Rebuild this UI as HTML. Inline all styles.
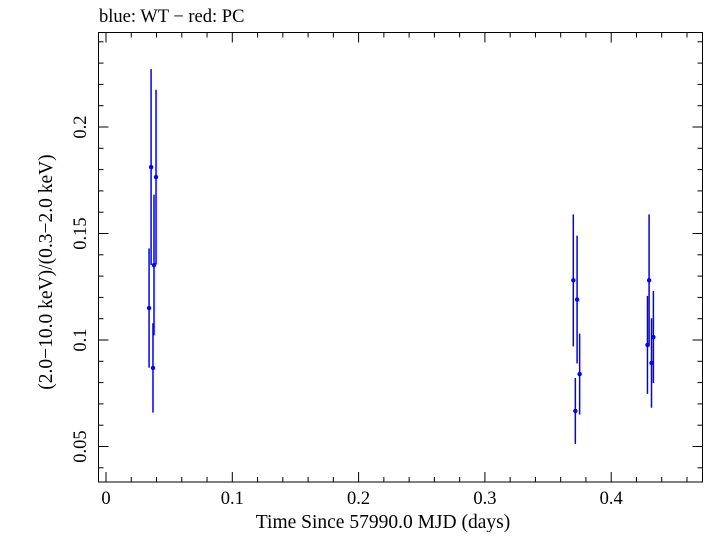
<!DOCTYPE html>
<html><head><meta charset="utf-8"><style>
html,body{margin:0;padding:0;background:#fff;}
svg text{font-family:"Liberation Serif",serif;fill:#000;}
</style></head><body>
<svg id="chart" width="705" height="532" xmlns="http://www.w3.org/2000/svg">
<rect x="0" y="0" width="705" height="532" fill="#fff"/>
<text x="99" y="22" font-size="18.5">blue: WT − red: PC</text>
<rect x="98.5" y="32.5" width="604" height="449.5" fill="none" stroke="#000" stroke-width="1"/>
<g id="ticks"></g>
<g id="marks"></g>
<text x="383" y="528" font-size="19.5" text-anchor="middle">Time Since 57990.0 MJD (days)</text>
<text transform="translate(52,272) rotate(-90)" font-size="19.5" text-anchor="middle">(2.0−10.0 keV)/(0.3−2.0 keV)</text>
</svg>
<script>
const xs = [0.0357,0.0341,0.0396,0.0380,0.0372,0.370,0.373,0.375,0.3716,0.430,0.4287,0.4334,0.4319];
const ys = [0.1812,0.115,0.1765,0.1352,0.0869,0.128,0.119,0.084,0.0667,0.128,0.0977,0.1014,0.0892];
const errs = [0.046,0.028,0.041,0.033,0.021,0.031,0.030,0.019,0.0155,0.031,0.023,0.0216,0.021];
const xTicks = [0,0.1,0.2,0.3,0.4];
const yTicks = [0.05,0.1,0.15,0.2];
const L=98.5,R=702.5,T=32.5,B=482;
function X(v){return 106+v*1263;}
function Y(v){return 340-(v-0.1)*2130;}
const NS="http://www.w3.org/2000/svg";
const tg=document.getElementById('ticks'), mg=document.getElementById('marks');
function line(g,x1,y1,x2,y2,c,w,name){const l=document.createElementNS(NS,'line');l.setAttribute('x1',x1);l.setAttribute('y1',y1);l.setAttribute('x2',x2);l.setAttribute('y2',y2);l.setAttribute('stroke',c);l.setAttribute('stroke-width',w);


g.appendChild(l);return l;}
for(let i=0;i<=23;i++){const v=i*0.02;const px=X(v);if(px>R)break;const major=i%5===0;const len=major?10:5;
line(tg,px,B,px,B-len,'#000',1,'x-tick');line(tg,px,T,px,T+len,'#000',1,'x-tick');}
for(let i=3;i<=24;i++){const v=i*0.01;const py=Y(v);if(py<T||py>B)continue;const major=i%5===0;const len=major?10:5;
line(tg,L,py,L+len,py,'#000',1,'y-tick');line(tg,R,py,R-len,py,'#000',1,'y-tick');}
xTicks.forEach(v=>{const t=document.createElementNS(NS,'text');t.setAttribute('x',X(v));t.setAttribute('y',504);t.setAttribute('font-size','18.5');t.setAttribute('text-anchor','middle');t.textContent=String(v);


tg.appendChild(t);});
yTicks.forEach(v=>{const t=document.createElementNS(NS,'text');t.setAttribute('transform','translate(86,'+Y(v)+') rotate(-90)');t.setAttribute('font-size','18.5');t.setAttribute('text-anchor','middle');t.textContent=String(v);


tg.appendChild(t);});
xs.forEach((x,i)=>{const px=X(x);
line(mg,px,Y(ys[i]+errs[i]),px,Y(ys[i]-errs[i]),'#0000ff',1.5,'error-bar');
const c=document.createElementNS(NS,'circle');c.setAttribute('cx',px);c.setAttribute('cy',Y(ys[i]));c.setAttribute('r',2.2);c.setAttribute('fill','#0000ff');


mg.appendChild(c);});
</script>
</body></html>
